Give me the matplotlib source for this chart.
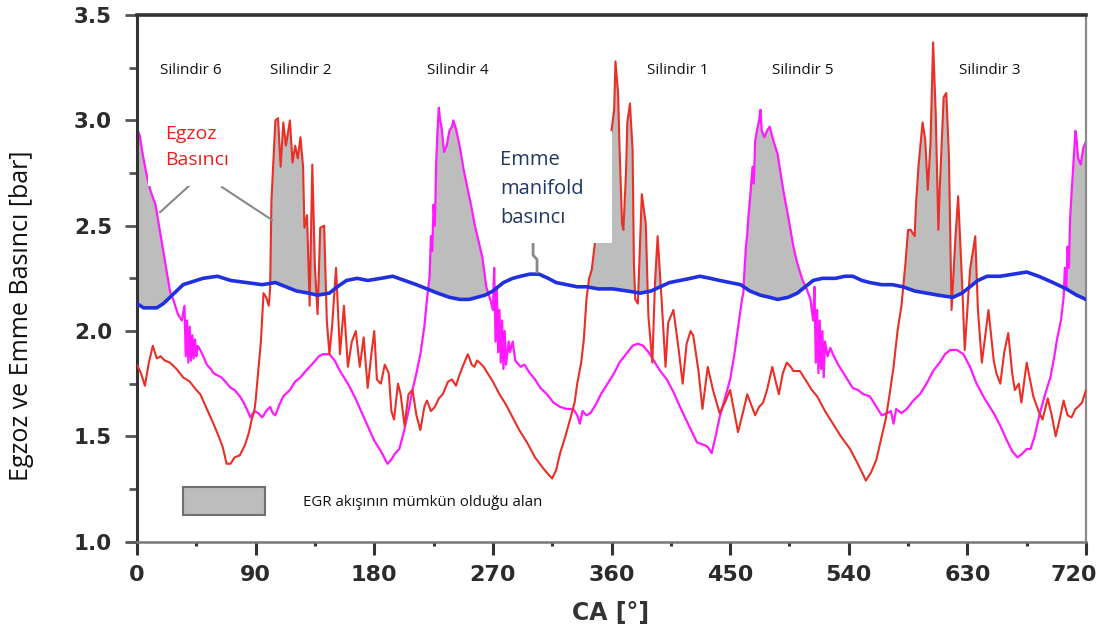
import numpy as np
import matplotlib
matplotlib.use("Agg")
import matplotlib.pyplot as plt
from matplotlib.patches import Rectangle
import matplotlib.transforms as mtransforms

# ---------------- data ----------------
red_x = [0, 3, 6, 9, 12, 15, 18, 21, 25, 30, 35, 40, 45, 48, 53, 58, 62, 65, 68, 71, 74, 78, 82, 85,
         87, 89, 90, 92, 94, 96, 98, 100, 101, 102, 103, 105, 107, 109, 111, 113, 116, 118, 120, 122,
         124, 126, 127, 129, 131, 133, 135, 137, 139, 142, 144, 146, 148, 151, 154, 157, 160, 163, 166,
         169, 172, 175, 178, 180, 182, 185, 188, 191, 193, 195, 198, 200, 203, 206, 209, 212, 215, 218,
         220, 223, 226, 229, 232, 236, 239, 242, 244, 247, 251, 254, 256, 258, 260, 263, 265, 270, 275,
         280, 285, 290, 296, 302, 308, 312, 315, 318, 321, 325, 329, 332, 334, 337, 339, 341, 343, 345,
         348, 352, 356, 360, 362, 363, 365, 366, 368, 369, 371, 372, 374, 376, 377, 378, 380, 383, 386,
         388, 391, 393, 395, 398, 401, 403, 407, 411, 414, 417, 420, 422, 426, 429, 433, 437, 442, 446,
         450, 453, 456, 460, 463, 466, 469, 472, 475, 478, 482, 485, 487, 490, 493, 496, 498, 503, 508,
         512, 516, 522, 528, 534, 541, 546, 550, 553, 557, 561, 565, 568, 571, 574, 577, 580, 583, 585,
         587, 590, 591, 593, 596, 598, 600, 602, 604, 606, 608, 609, 612, 614, 616, 618, 621, 623, 626,
         628, 632, 636, 638, 641, 643, 646, 650, 652, 655, 658, 661, 664, 666, 669, 671, 675, 680, 684,
         687, 691, 694, 697, 700, 703, 706, 709, 712, 714, 717, 720]
red_y = [1.84, 1.80, 1.74, 1.85, 1.93, 1.87, 1.88, 1.86, 1.85, 1.82, 1.78, 1.76, 1.72, 1.70, 1.63, 1.56,
         1.50, 1.45, 1.37, 1.37, 1.40, 1.41, 1.46, 1.52, 1.58, 1.62, 1.67, 1.81, 1.95, 2.18, 2.16, 2.12,
         2.20, 2.62, 2.75, 3.00, 3.01, 2.78, 2.99, 2.88, 3.00, 2.80, 2.88, 2.82, 2.92, 2.78, 2.49, 2.55,
         2.12, 2.79, 2.30, 2.08, 2.49, 2.50, 2.05, 1.89, 2.02, 2.30, 1.89, 2.12, 1.83, 1.95, 2.00, 1.83,
         1.97, 1.73, 1.90, 2.00, 1.77, 1.75, 1.84, 1.80, 1.62, 1.58, 1.75, 1.70, 1.55, 1.70, 1.72, 1.60,
         1.53, 1.64, 1.67, 1.62, 1.64, 1.68, 1.70, 1.76, 1.77, 1.74, 1.78, 1.83, 1.89, 1.84, 1.83, 1.86,
         1.85, 1.83, 1.81, 1.76, 1.70, 1.65, 1.59, 1.53, 1.47, 1.40, 1.35, 1.32, 1.30, 1.34, 1.42, 1.50,
         1.59, 1.66, 1.75, 1.85, 1.96, 2.15, 2.25, 2.29, 2.45, 2.65, 2.85, 2.95, 3.05, 3.28, 3.13, 2.89,
         2.51, 2.48, 2.75, 2.99, 3.08, 2.86, 2.32, 2.15, 2.13, 2.65, 2.51, 2.07, 1.85, 2.23, 2.45, 2.15,
         1.83, 2.04, 2.10, 1.91, 1.75, 1.94, 2.00, 1.98, 1.81, 1.63, 1.83, 1.72, 1.61, 1.66, 1.72, 1.62,
         1.52, 1.62, 1.70, 1.65, 1.60, 1.64, 1.66, 1.72, 1.83, 1.75, 1.70, 1.80, 1.85, 1.83, 1.81, 1.81,
         1.76, 1.72, 1.69, 1.62, 1.56, 1.50, 1.44, 1.38, 1.33, 1.29, 1.33, 1.39, 1.50, 1.58, 1.70, 1.83,
         2.00, 2.12, 2.32, 2.48, 2.48, 2.45, 2.60, 2.79, 2.99, 2.91, 2.67, 2.89, 3.37, 3.03, 2.48, 2.67,
         3.11, 3.13, 2.83, 2.10, 2.45, 2.64, 2.23, 1.91, 2.29, 2.45, 2.10, 1.85, 1.95, 2.10, 1.86, 1.80,
         1.75, 1.90, 1.99, 1.80, 1.72, 1.75, 1.66, 1.85, 1.69, 1.62, 1.58, 1.68, 1.60, 1.50, 1.58, 1.67,
         1.60, 1.59, 1.63, 1.64, 1.66, 1.72]

mag_x = [0, 2, 4, 7, 10, 14, 18, 22, 25, 28, 31, 34, 36, 37, 38, 39, 40, 41, 42, 43, 44, 45, 46, 48,
         51, 53, 56, 58, 61, 64, 67, 71, 74, 78, 81, 84, 86, 89, 92, 95, 98, 101, 103, 105, 108, 111,
         116, 120, 124, 128, 131, 134, 138, 141, 146, 150, 154, 160, 165, 170, 175, 180, 185, 190, 193,
         196, 199, 202, 206, 209, 212, 215, 218, 220, 222, 223, 224, 225, 226, 227, 228, 229, 230, 231,
         233, 235, 237, 239, 240, 242, 245, 248, 251, 254, 256, 259, 262, 265, 268, 270, 271, 272, 273,
         274, 275, 276, 277, 278, 279, 280, 282, 283, 285, 287, 291, 294, 298, 302, 306, 311, 316, 321,
         326, 331, 334, 336, 338, 341, 344, 348, 352, 357, 362, 366, 371, 376, 380, 384, 388, 392, 397,
         402, 407, 412, 418, 425, 430, 433, 436, 439, 442, 446, 450, 453, 455, 457, 459, 460, 461, 462,
         463, 464, 465, 467, 468, 469, 470, 472, 473, 474, 476, 478, 480, 483, 486, 490, 495, 498, 501,
         505, 508, 511, 513, 514, 515, 516, 517, 518, 519, 520, 521, 522, 524, 526, 528, 532, 536, 540,
         543, 547, 551, 556, 560, 565, 569, 572, 574, 576, 580, 584, 589, 594, 599, 604, 609, 613, 617,
         622, 627, 632, 637, 643, 650, 655, 660, 664, 668, 672, 675, 678, 681, 685, 689, 693, 696, 698,
         701, 703, 704, 705, 706, 707, 708, 709, 710, 711, 712, 713, 714, 716, 718, 720]
mag_y = [2.96, 2.93, 2.85, 2.75, 2.67, 2.60, 2.45, 2.30, 2.19, 2.14, 2.08, 2.05, 2.12, 1.88, 2.05, 1.85,
         2.02, 1.86, 1.98, 1.87, 1.96, 1.88, 1.93, 1.91, 1.87, 1.84, 1.82, 1.80, 1.79, 1.78, 1.76, 1.73,
         1.72, 1.69, 1.66, 1.62, 1.59, 1.62, 1.61, 1.59, 1.62, 1.64, 1.61, 1.60, 1.65, 1.69, 1.72, 1.76,
         1.78, 1.81, 1.83, 1.85, 1.88, 1.89, 1.89, 1.86, 1.81, 1.75, 1.69, 1.62, 1.55, 1.48, 1.43, 1.37,
         1.39, 1.42, 1.44, 1.51, 1.62, 1.72, 1.80, 1.89, 2.02, 2.15, 2.26, 2.45, 2.38, 2.60, 2.50, 2.80,
         2.95, 3.06, 3.00, 2.97, 2.85, 2.88, 2.95, 2.97, 3.00, 2.96, 2.87, 2.76, 2.67, 2.58, 2.51, 2.43,
         2.35, 2.21, 2.15, 2.10, 2.30, 1.95, 2.20, 1.90, 2.10, 1.85, 2.05, 1.82, 2.00, 1.84, 1.95, 1.90,
         1.95, 1.86, 1.83, 1.84, 1.80, 1.77, 1.73, 1.70, 1.66, 1.64, 1.63, 1.63, 1.60, 1.56, 1.62, 1.60,
         1.61, 1.65, 1.70, 1.75, 1.80, 1.85, 1.89, 1.93, 1.94, 1.93, 1.90, 1.86, 1.81, 1.77, 1.71, 1.64,
         1.56, 1.47, 1.46, 1.45, 1.42, 1.50, 1.59, 1.68, 1.77, 1.88, 1.97, 2.06, 2.15, 2.18, 2.30, 2.40,
         2.46, 2.55, 2.62, 2.78, 2.70, 2.90, 2.94, 3.00, 3.05, 2.95, 2.92, 2.95, 2.97, 2.90, 2.84, 2.68,
         2.51, 2.40, 2.32, 2.24, 2.20, 2.15, 2.05, 2.21, 1.85, 2.10, 1.80, 2.05, 1.82, 2.00, 1.78, 1.95,
         1.88, 1.92, 1.89, 1.84, 1.80, 1.76, 1.73, 1.72, 1.70, 1.69, 1.65, 1.60, 1.61, 1.62, 1.56, 1.63,
         1.61, 1.63, 1.67, 1.70, 1.75, 1.81, 1.85, 1.89, 1.91, 1.91, 1.89, 1.83, 1.75, 1.68, 1.61, 1.55,
         1.48, 1.43, 1.40, 1.42, 1.44, 1.44, 1.50, 1.61, 1.70, 1.78, 1.88, 1.96, 2.05, 2.16, 2.30, 2.20,
         2.40, 2.30, 2.54, 2.65, 2.75, 2.85, 2.95, 2.90, 2.82, 2.79, 2.87, 2.90]

blue_x = [0, 5, 10, 15, 20, 25, 30, 35, 40, 50, 61, 71, 83, 95, 105, 113, 121, 130, 137, 146, 152, 159,
          167, 175, 185, 194, 203, 212, 220, 228, 237, 245, 252, 258, 264, 270, 278, 285, 291, 298, 305,
          312, 318, 326, 334, 341, 350, 361, 372, 382, 390, 397, 404, 412, 420, 427, 435, 442, 450, 458,
          465, 473, 480, 486, 494, 501, 507, 513, 520, 530, 537, 543, 550, 556, 565, 573, 581, 590, 599,
          608, 619, 626, 632, 638, 645, 655, 665, 675, 684, 695, 705, 713, 720]
blue_y = [2.13, 2.11, 2.11, 2.11, 2.13, 2.16, 2.19, 2.22, 2.23, 2.25, 2.26, 2.24, 2.23, 2.22, 2.23, 2.21,
          2.19, 2.18, 2.17, 2.18, 2.21, 2.24, 2.25, 2.24, 2.25, 2.26, 2.24, 2.22, 2.20, 2.18, 2.16, 2.15,
          2.15, 2.16, 2.17, 2.19, 2.23, 2.25, 2.26, 2.27, 2.27, 2.25, 2.23, 2.22, 2.21, 2.21, 2.20, 2.20,
          2.19, 2.18, 2.19, 2.21, 2.23, 2.24, 2.25, 2.26, 2.25, 2.24, 2.23, 2.22, 2.19, 2.17, 2.16, 2.15,
          2.16, 2.18, 2.21, 2.24, 2.25, 2.25, 2.26, 2.26, 2.24, 2.23, 2.22, 2.22, 2.21, 2.19, 2.18, 2.17,
          2.16, 2.18, 2.21, 2.24, 2.26, 2.26, 2.27, 2.28, 2.26, 2.23, 2.20, 2.17, 2.15]

cyl_labels = ["Silindir 6", "Silindir 2", "Silindir 4", "Silindir 1", "Silindir 5", "Silindir 3"]
cyl_pos = [41, 124.5, 243.5, 410.5, 505, 647]

x_ticks = [0, 90, 180, 270, 360, 450, 540, 630, 720]
x_tick_labels = ["0", "90", "180", "270", "360", "450", "540", "630", "720"]
y_ticks = [1.0, 1.5, 2.0, 2.5, 3.0, 3.5]
y_tick_labels = ["1.0", "1.5", "2.0", "2.5", "3.0", "3.5"]

# ---------------- figure ----------------
W, H = 1102, 633
fig = plt.figure(figsize=(W / 100, H / 100), dpi=100)
fig.patch.set_facecolor("white")
ax = fig.add_axes([137 / W, 1 - 541.7 / H, (1086 - 137) / W, (541.7 - 15) / H])
ax.set_xlim(0, 720)
ax.set_ylim(1.0, 3.5)

red_x = np.array(red_x, float); red_y = np.array(red_y, float)
mag_x = np.array(mag_x, float); mag_y = np.array(mag_y, float)
blue_x = np.array(blue_x, float); blue_y = np.array(blue_y, float)

GRAY = "#bdbdbd"
for ex, ey in ((red_x, red_y), (mag_x, mag_y)):
    b = np.interp(ex, blue_x, blue_y)
    ax.fill_between(ex, ey, b, where=ey > b, interpolate=True,
                    facecolor=GRAY, edgecolor="none", zorder=1)

ax.plot(mag_x, mag_y, color="#ff1aff", lw=1.6, zorder=2)
ax.plot(red_x, red_y, color="#ea2f26", lw=1.5, zorder=3)
ax.plot(blue_x, blue_y, color="#2030e0", lw=2.6, zorder=3)

# annotation pointer lines
ax.plot([17.5, 40.2], [2.564, 2.693], color="#888888", lw=1.5, zorder=4)
ax.plot([64.5, 102.4], [2.683, 2.527], color="#888888", lw=1.5, zorder=4)
ax.plot([300.5, 300.5, 303.5, 303.5], [2.42, 2.36, 2.34, 2.28], color="#8a8a8a", lw=2, zorder=4)

# white boxes behind annotation texts
ax.add_patch(Rectangle((8, 2.69), 68, 0.40, facecolor="white", edgecolor="none", zorder=5))
ax.add_patch(Rectangle((268, 2.42), 92, 0.53, facecolor="white", edgecolor="none", zorder=5))

ax.text(21, 2.873, "Egzoz\nBasıncı", color="#e8221c", fontsize=14, family="Open Sans",
        ha="left", va="center", linespacing=1.55, zorder=6)
ax.text(275.4, 2.673, "Emme\nmanifold\nbasıncı", color="#203864", fontsize=14.5,
        family="Open Sans", ha="left", va="center", linespacing=1.6, zorder=6)

for lab, pos in zip(cyl_labels, cyl_pos):
    ax.text(pos, 3.238, lab, fontsize=11, family="Open Sans", color="#111111",
            ha="center", va="center", zorder=6)

# legend-like box
ax.add_patch(Rectangle((35, 1.126), 62, 0.133, facecolor=GRAY, edgecolor="#707070", lw=1.5, zorder=6))
ax.text(126, 1.184, "EGR akışının mümkün olduğu alan", fontsize=10.8, family="Open Sans",
        color="#111111", ha="left", va="center", zorder=6)

# axes styling
ax.set_xticks(x_ticks)
ax.set_xticklabels(x_tick_labels, fontsize=16, fontweight="bold", color="#2b2b2b")
ax.set_yticks(y_ticks)
ax.set_yticklabels(y_tick_labels, fontsize=15.5, fontweight="bold", color="#2b2b2b")
ax.set_xticks(np.arange(45, 720, 90), minor=True)
ax.set_yticks([1.25, 1.75, 2.25, 2.75, 3.25], minor=True)
ax.tick_params(axis="x", which="major", direction="out", length=9, width=2.2, color="#333333", pad=8)
ax.tick_params(axis="x", which="minor", direction="out", length=3, width=2.2, color="#333333")
ax.tick_params(axis="y", which="major", direction="out", length=9, width=2.0, color="#555555", pad=9)
ax.tick_params(axis="y", which="minor", direction="out", length=6, width=2.0, color="#555555")

# keep the last x tick label inside the picture
last = ax.get_xticklabels()[-1]
last.set_transform(last.get_transform() + mtransforms.ScaledTranslation(-12 / 100, 0, fig.dpi_scale_trans))

ax.spines["left"].set_color("#333333"); ax.spines["left"].set_linewidth(2.2)
ax.spines["bottom"].set_color("#777777"); ax.spines["bottom"].set_linewidth(1.8)
ax.spines["top"].set_color("#333333"); ax.spines["top"].set_linewidth(2.6)
ax.spines["right"].set_color("#8a8a8a"); ax.spines["right"].set_linewidth(1.6)

fig.text(611 / W, 1 - 613 / H, "CA [°]", fontsize=17, fontweight="bold", color="#333333",
         ha="center", va="center")
fig.text(22 / W, 1 - 316 / H, "Egzoz ve Emme Basıncı [bar]", fontsize=18, family="Open Sans",
         rotation=90, ha="center", va="center", color="#111111")

fig.savefig("out.png", dpi=100)
